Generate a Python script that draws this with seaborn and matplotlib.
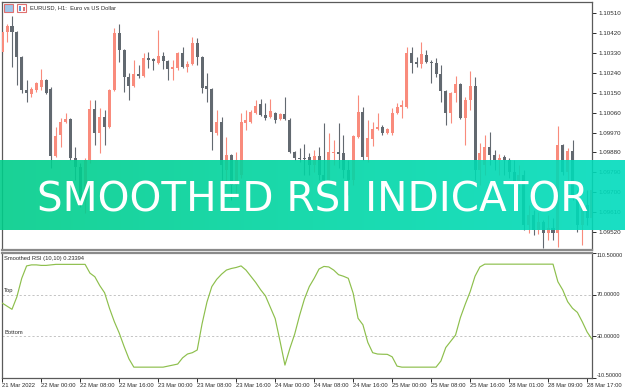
import numpy as np
import pandas as pd
import matplotlib
matplotlib.use("Agg")
import matplotlib.pyplot as plt
import seaborn as sns
from matplotlib.patches import Rectangle
from matplotlib.colors import LinearSegmentedColormap

# ---------------- data ----------------
bar_index = list(range(122))

open_pts = [110334, 110424, 110451, 110424, 110311, 110162, 110144, 110162, 110176, 110207,
            110167, 109864, 109959, 110018, 110031, 109855, 109814, 109665, 109846, 110076,
            109968, 110040, 109995, 110162, 110420, 110343, 110221, 110180, 110235, 110225,
            110307, 110302, 110284, 110316, 110293, 110257, 110262, 110329, 110266, 110280,
            110375, 110311, 110180, 110167, 109968, 110018, 109801, 109868, 109733, 109778,
            110013, 110018, 110058, 110099, 110049, 110040, 110058, 110031, 110054, 110027,
            109882, 109855, 109855, 109859, 109823, 109864, 109778, 109755, 109877, 109882,
            109877, 109801, 109755, 109950, 110063, 109859, 109941, 109986, 109995, 109968,
            109968, 110058, 110085, 110085, 110329, 110289, 110280, 110320, 110289, 110284,
            110235, 110158, 110058, 110149, 110189, 110036, 110117, 110180, 109801, 109823,
            109905, 109868, 109846, 109859, 109846, 109792, 109746, 109778, 109552, 109597,
            109529, 109566, 109516, 109538, 109516, 109914, 109792, 109886, 109688, 109552,
            109642, 109584]
high_pts = [110433, 110461, 110497, 110429, 110316, 110207, 110176, 110198, 110257, 110212,
            110176, 109995, 110036, 110058, 110036, 109905, 109832, 109855, 110117, 110117,
            110081, 110072, 110167, 110442, 110461, 110348, 110239, 110298, 110275, 110329,
            110334, 110307, 110433, 110334, 110298, 110298, 110334, 110357, 110293, 110402,
            110397, 110316, 110239, 110171, 110072, 110040, 109950, 109873, 109882, 110058,
            110072, 110072, 110117, 110122, 110103, 110122, 110063, 110058, 110131, 110036,
            109887, 109900, 109918, 109877, 109891, 109905, 110013, 109968, 109936, 110013,
            109959, 109846, 109959, 110140, 110085, 110027, 110018, 110058, 110004, 109990,
            110081, 110103, 110117, 110357, 110357, 110311, 110379, 110343, 110298, 110307,
            110275, 110162, 110153, 110225, 110194, 110131, 110248, 110221, 109923, 109959,
            109972, 109891, 109873, 109868, 109855, 109846, 109823, 109801, 109642, 109620,
            109611, 109575, 109597, 109584, 109999, 109918, 109900, 109936, 109710, 109665,
            109710, 109764]
low_pts = [110325, 110379, 110266, 110185, 110149, 110108, 110131, 110153, 110162, 110144,
           109810, 109859, 109905, 110013, 109846, 109755, 109633, 109606, 109832, 109914,
           109877, 109914, 109990, 110158, 110289, 110153, 110117, 110176, 110216, 110221,
           110262, 110253, 110280, 110257, 110207, 110207, 110253, 110262, 110244, 110275,
           110275, 110149, 110108, 109891, 109959, 109755, 109733, 109665, 109688, 109764,
           109981, 110013, 110054, 110045, 110027, 110036, 110013, 110027, 110027, 109877,
           109846, 109837, 109778, 109778, 109792, 109755, 109733, 109746, 109823, 109810,
           109764, 109688, 109733, 109945, 109846, 109837, 109909, 109981, 109959, 109963,
           109959, 110054, 110036, 110081, 110239, 110266, 110262, 110284, 110194, 110221,
           110108, 110004, 110013, 110108, 110031, 109914, 110072, 109755, 109733, 109778,
           109823, 109801, 109778, 109778, 109764, 109719, 109710, 109529, 109516, 109507,
           109511, 109448, 109484, 109484, 109453, 109778, 109733, 109665, 109520, 109462,
           109552, 109566]
close_pts = [110424, 110451, 110424, 110311, 110162, 110149, 110167, 110194, 110207, 110149,
             109864, 109954, 110018, 110031, 109855, 109814, 109665, 109846, 110076, 109968,
             110040, 109995, 110162, 110420, 110343, 110221, 110180, 110235, 110225, 110307,
             110298, 110293, 110316, 110293, 110257, 110266, 110329, 110266, 110280, 110375,
             110311, 110171, 110167, 109972, 110018, 109823, 109868, 109733, 109846, 110018,
             110027, 110063, 110090, 110049, 110036, 110067, 110027, 110054, 110031, 109882,
             109855, 109850, 109850, 109823, 109864, 109778, 109755, 109882, 109882, 109873,
             109801, 109755, 109954, 110063, 109859, 109945, 109986, 109995, 109968, 109986,
             110058, 110085, 110094, 110329, 110284, 110280, 110325, 110289, 110284, 110235,
             110158, 110058, 110149, 110189, 110036, 110117, 110180, 109801, 109877, 109905,
             109868, 109846, 109855, 109846, 109792, 109746, 109778, 109552, 109597, 109529,
             109566, 109516, 109538, 109516, 109914, 109792, 109886, 109688, 109552, 109642,
             109584, 109710]

rsi_values = [62, 59, 56, 68, 86, 98, 99, 99, 98.5, 98.5,
              99, 99.5, 99.5, 99.5, 99.5, 99.5, 99.5, 99.5, 91, 87.5,
              79, 72, 57, 44, 33, 20, 8, 0, 0, 0,
              0, 0, 0, 0, 1, 2, 3, 9, 12.7, 14,
              16.6, 42, 63, 78, 85, 90, 94, 95.5, 96.5, 98,
              94, 88, 82, 75, 69, 58, 47, 25, 2, 18,
              32, 50, 66, 78, 86, 95, 97.5, 97, 94, 89.5,
              88, 86, 71.5, 47.3, 41, 24, 14, 12.7, 12.5, 12.4,
              10, 1, 0, 0, 0, 0, 0, 0, 0, 0,
              6, 19, 25, 31, 48, 61, 73, 88, 97, 99.7,
              99.7, 99.7, 99.7, 99.7, 99.7, 99.7, 99.7, 99.7, 99.7, 99.7,
              99.7, 99.7, 99.7, 99.7, 82.7, 74.7, 63.4, 57, 53, 44,
              34, 27]

price_ticks = [1.10510, 1.10420, 1.10330, 1.10240, 1.10150, 1.10060,
               1.09970, 1.09880, 1.09790, 1.09700, 1.09610, 1.09520]
rsi_ticks = [110.5, 70.0, 30.0, -10.5]
rsi_levels = [70, 30]
rsi_level_names = ["Top", "Bottom"]
time_ticks = list(range(0, 121, 8))
time_labels = ["21 Mar 2022", "22 Mar 00:00", "22 Mar 08:00", "22 Mar 16:00",
               "23 Mar 00:00", "23 Mar 08:00", "23 Mar 16:00", "24 Mar 00:00",
               "24 Mar 08:00", "24 Mar 16:00", "25 Mar 00:00", "25 Mar 08:00",
               "25 Mar 16:00", "28 Mar 01:00", "28 Mar 09:00", "28 Mar 17:00"]

chart_title = "EURUSD, H1:  Euro vs US Dollar"
rsi_title = "Smoothed RSI (10,10) 0.23394"
banner_text = "SMOOTHED RSI INDICATOR"

# ---------------- style ----------------
sns.set_theme(style="white")
plt.rcParams["font.family"] = ["Liberation Sans", "DejaVu Sans"]
FONT = ["Liberation Sans", "DejaVu Sans"]

BULL = "#f98b7c"
BEAR = "#626970"
FRAME = "#5a5a5a"
TXT = "#2b2b2b"

W, H = 625, 391
fig = plt.figure(figsize=(W / 100, H / 100), dpi=100)
fig.patch.set_facecolor("white")


def fx(px):
    return px / W


def fy(py):
    return 1 - py / H


def fit_size(text, target_px, base=6.0):
    t = fig.text(0, 0, text, fontsize=base, fontfamily=FONT)
    fig.canvas.draw()
    w = t.get_window_extent().width
    t.remove()
    return base * target_px / w


SZ_X = fit_size("22 Mar 00:00", 35)
SZ_PRICE = fit_size("1.10510", 23)
SZ_RSI_AX = fit_size("110.50000", 27)
SZ_TITLE = fit_size(chart_title, 86)
SZ_RSI_T = fit_size(rsi_title, 80)
SZ_LVL = fit_size("Bottom", 19)

ax = fig.add_axes([fx(2), fy(250), fx(590), (250 - 2) / H])
ax2 = fig.add_axes([fx(2), fy(378), fx(590), (378 - 253) / H])

# ---------------- candles ----------------
df = pd.DataFrame({
    "i": bar_index,
    "open": np.array(open_pts) / 1e5,
    "high": np.array(high_pts) / 1e5,
    "low": np.array(low_pts) / 1e5,
    "close": np.array(close_pts) / 1e5,
})
up = df["close"] >= df["open"]
cols = np.where(up, BULL, BEAR)
ax.vlines(df["i"], df["low"], df["high"], colors=cols, linewidth=0.8, zorder=2)
body_lo = np.minimum(df["open"], df["close"])
body_h = np.maximum((df["close"] - df["open"]).abs(), 0.00004)
ax.bar(df["i"], body_h, bottom=body_lo, width=0.62, color=cols, linewidth=0, zorder=3)

xlim = (-0.05, 121.0)
ax.set_xlim(*xlim)
ax.set_ylim(1.09439, 1.10560)
ax.set_xticks([])
ax.yaxis.tick_right()
ax.set_yticks(price_ticks)
ax.set_yticklabels([f"{t:.5f}" for t in price_ticks])
ax.tick_params(axis="y", right=True, left=False, length=3, width=0.7, pad=1.5,
               labelsize=SZ_PRICE, colors=TXT, direction="out")
for s in ax.spines.values():
    s.set_color(FRAME)
    s.set_linewidth(0.9)
ax.spines["bottom"].set_color("#8a8a8a")
ax.spines["bottom"].set_linewidth(1.6)

fig.text(fx(30), fy(8), chart_title, fontsize=SZ_TITLE, color=TXT, va="center", ha="left")
# small toolbar icons
fig.add_artist(Rectangle((fx(4), fy(12)), fx(9), 8 / H, transform=fig.transFigure,
                         facecolor="#9ec5e8", edgecolor="#e07070", linewidth=0.8))
fig.add_artist(Rectangle((fx(17), fy(12)), fx(9), 8 / H, transform=fig.transFigure,
                         facecolor="white", edgecolor="#e07070", linewidth=0.8))
fig.add_artist(Rectangle((fx(19), fy(11)), fx(2), 5 / H, transform=fig.transFigure,
                         facecolor="#5b9bd5", edgecolor="none"))
fig.add_artist(Rectangle((fx(22.5), fy(11)), fx(2), 4 / H, transform=fig.transFigure,
                         facecolor="#e07070", edgecolor="none"))

# ---------------- RSI panel ----------------
rsi_df = pd.DataFrame({"i": bar_index, "rsi": rsi_values})
sns.lineplot(data=rsi_df, x="i", y="rsi", ax=ax2, color="#8dbf4c", linewidth=0.85,
             legend=False, zorder=3)
for lv, nm in zip(rsi_levels, rsi_level_names):
    ax2.axhline(lv, color="#c4c4c4", linewidth=0.7, linestyle=(0, (2.2, 2.2)), zorder=1)
    ax2.text(0.004, lv + 1.5, nm, transform=ax2.get_yaxis_transform(), fontsize=SZ_LVL,
             color=TXT, va="bottom", ha="left")
ax2.set_xlim(*xlim)
ax2.set_ylim(-10.5, 110.5)
ax2.set_xlabel("")
ax2.set_ylabel("")
ax2.yaxis.tick_right()
ax2.set_yticks(rsi_ticks)
ax2.set_yticklabels([])
ax2.tick_params(axis="y", right=True, left=False, length=3, width=0.7, colors=TXT)
for k, t in enumerate(rsi_ticks):
    va = "top" if k == 0 else ("bottom" if k == len(rsi_ticks) - 1 else "center")
    ax2.text(1 + 5 / 590, t, f"{t:.5f}", transform=ax2.get_yaxis_transform(),
             fontsize=SZ_RSI_AX, color=TXT, va=va, ha="left")
ax2.set_xticks(time_ticks)
ax2.set_xticklabels(time_labels, ha="left")
ax2.tick_params(axis="x", bottom=True, length=3, width=0.7, pad=0.8,
                labelsize=SZ_X, colors=TXT, direction="out")
for s in ax2.spines.values():
    s.set_color(FRAME)
    s.set_linewidth(0.9)
ax2.spines["top"].set_color("#8a8a8a")
ax2.spines["top"].set_linewidth(1.6)
ax2.text(0.004, 0.955, rsi_title, transform=ax2.transAxes, fontsize=SZ_RSI_T,
         color=TXT, va="center", ha="left")

# ---------------- banner ----------------
bax = fig.add_axes([0, fy(230), 1, 70 / H], zorder=10)
grad = np.linspace(0, 1, 256).reshape(1, -1)
cmap = LinearSegmentedColormap.from_list("banner", ["#00cd8a", "#00d6a4", "#00dcbd"])
bax.imshow(grad, aspect="auto", cmap=cmap, extent=[0, 1, 0, 1], alpha=0.9)
bax.set_xlim(0, 1)
bax.set_ylim(0, 1)
bax.axis("off")
bt = bax.text(0.5, (230 - 211) / 70, banner_text, color="white", ha="center",
              va="baseline", fontsize=29, fontfamily="DejaVu Sans")
fig.canvas.draw()
bw = bt.get_window_extent().width
bt.set_fontsize(29 * 551 / bw)

fig.savefig("out.png", dpi=100, facecolor="white")
